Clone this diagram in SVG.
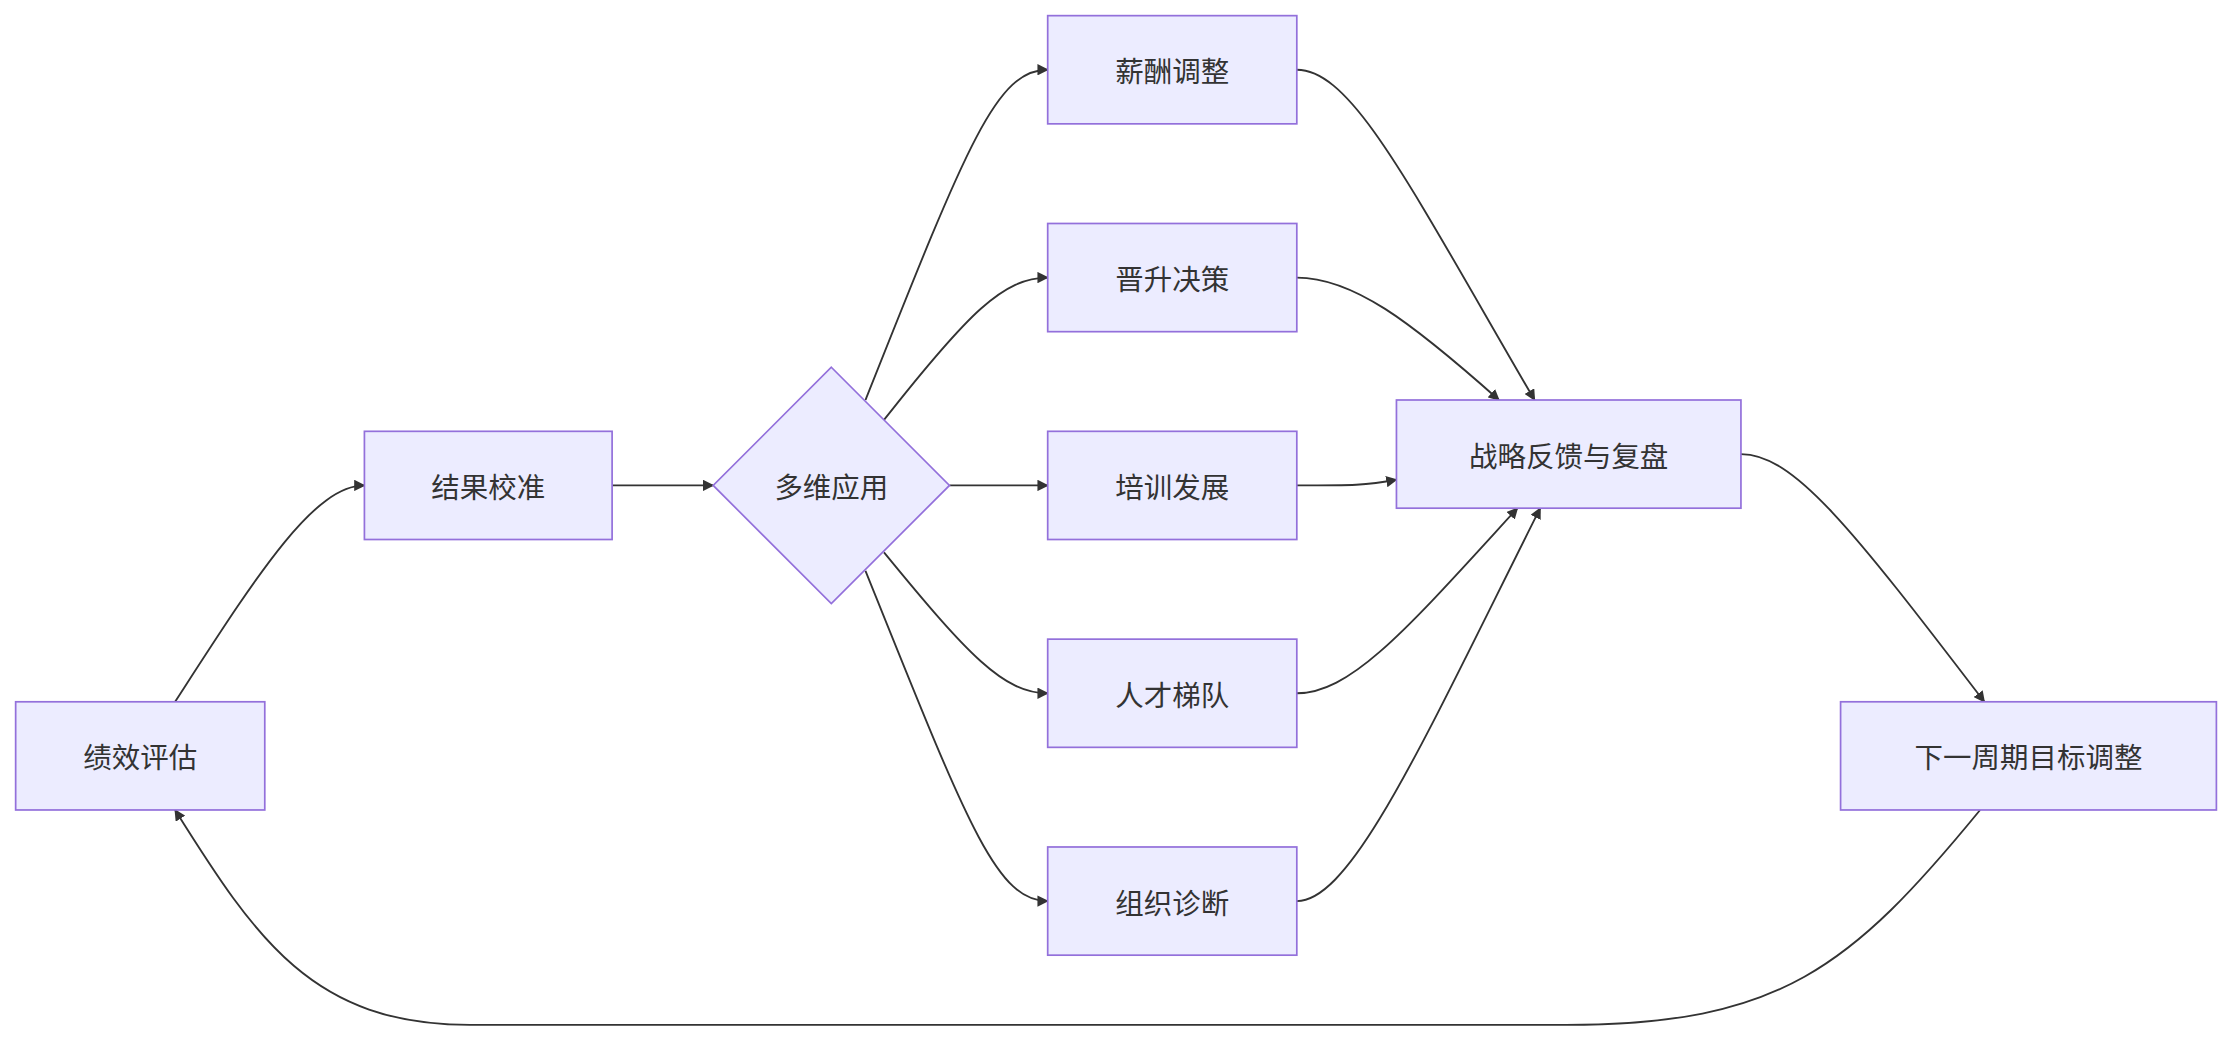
<svg xmlns="http://www.w3.org/2000/svg" width="2232" height="1042" viewBox="0 0 2232 1042">
<style>
.n{fill:#ECECFF;stroke:#9370DB;stroke-width:1.2}
.t{font-family:"Noto Sans CJK SC","Liberation Sans",sans-serif;font-size:20px;fill:#333;text-anchor:middle;dominant-baseline:central}
.e{fill:none;stroke:#333;stroke-width:1.3}
</style>
<defs><marker id="a" viewBox="0 0 10 10" refX="9" refY="5" markerWidth="8" markerHeight="8" orient="auto" markerUnits="userSpaceOnUse"><path d="M0,0L10,5L0,10z" fill="#333"/></marker></defs>
<rect width="2232" height="1042" fill="#fff"/>
<g transform="scale(1.4235)">
<g id="edges">
<path class="e" marker-end="url(#a)" d="M123,493 C180,405 220,341 256,341"/>
<path class="e" marker-end="url(#a)" d="M430,341 L501,341"/>
<path class="e" marker-end="url(#a)" d="M608,281 C680,100 700,49 736,49"/>
<path class="e" marker-end="url(#a)" d="M621,295 C680,220 705,195 736,195"/>
<path class="e" marker-end="url(#a)" d="M667,341 L736,341"/>
<path class="e" marker-end="url(#a)" d="M621,388 C680,460 705,487 736,487"/>
<path class="e" marker-end="url(#a)" d="M608,401 C680,580 700,633 736,633"/>
<path class="e" marker-end="url(#a)" d="M911,49 C950,49 990,130 1078,281"/>
<path class="e" marker-end="url(#a)" d="M911,195 C950,195 990,225 1053,281"/>
<path class="e" marker-end="url(#a)" d="M911,341 C950,341 960,341 981,337"/>
<path class="e" marker-end="url(#a)" d="M911,487 C950,487 990,440 1066,357"/>
<path class="e" marker-end="url(#a)" d="M911,633 C950,633 1000,520 1082,357"/>
<path class="e" marker-end="url(#a)" d="M1223,319 C1260,319 1300,370 1394,493"/>
<path class="e" marker-end="url(#a)" d="M1391,569 C1300,680 1250,720 1100,720 L330,720 C220,720 180,660 123,569"/>
</g>
<g id="n1"><rect class="n" x="11" y="493" width="175" height="76"/><text class="t" x="98.5" y="531">绩效评估</text></g>
<g id="n2"><rect class="n" x="256" y="303" width="174" height="76"/><text class="t" x="343" y="341">结果校准</text></g>
<g id="n3"><path class="n" d="M584,258 L667,341 L584,424 L501,341z"/><text class="t" x="584" y="341">多维应用</text></g>
<g id="n4"><rect class="n" x="736" y="11" width="175" height="76"/><text class="t" x="823.5" y="49">薪酬调整</text></g>
<g id="n5"><rect class="n" x="736" y="157" width="175" height="76"/><text class="t" x="823.5" y="195">晋升决策</text></g>
<g id="n6"><rect class="n" x="736" y="303" width="175" height="76"/><text class="t" x="823.5" y="341">培训发展</text></g>
<g id="n7"><rect class="n" x="736" y="449" width="175" height="76"/><text class="t" x="823.5" y="487">人才梯队</text></g>
<g id="n8"><rect class="n" x="736" y="595" width="175" height="76"/><text class="t" x="823.5" y="633">组织诊断</text></g>
<g id="n9"><rect class="n" x="981" y="281" width="242" height="76"/><text class="t" x="1102" y="319">战略反馈与复盘</text></g>
<g id="n10"><rect class="n" x="1293" y="493" width="264" height="76"/><text class="t" x="1425" y="531">下一周期目标调整</text></g>
</g>
</svg>
